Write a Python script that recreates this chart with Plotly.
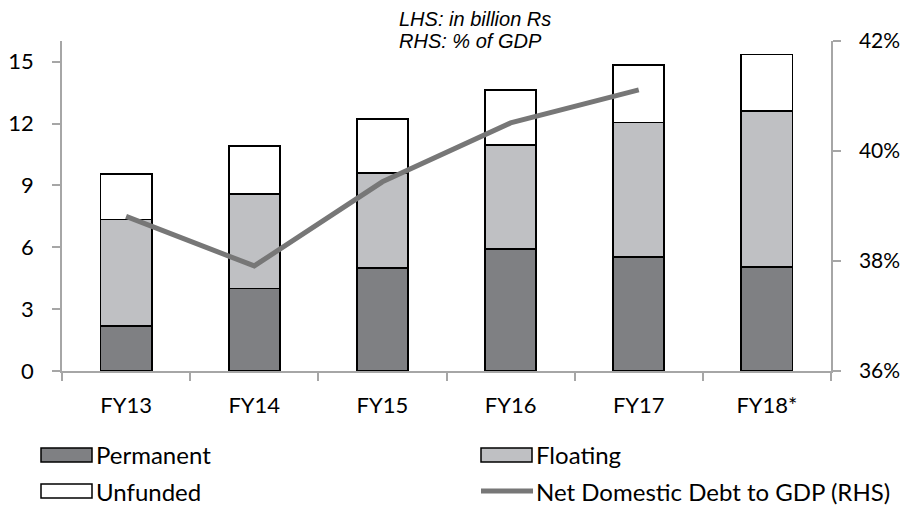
import plotly.graph_objects as go

categories = ["FY13", "FY14", "FY15", "FY16", "FY17", "FY18*"]
permanent = [2.2, 4.0, 5.0, 5.93, 5.53, 5.03]
floating = [5.15, 4.6, 4.6, 5.02, 6.52, 7.58]
unfunded = [2.2, 2.32, 2.6, 2.68, 2.79, 2.74]
debt_gdp = [38.81, 37.91, 39.44, 40.51, 41.11, None]

left_ticks = [0, 3, 6, 9, 12, 15]
right_ticks = [36, 38, 40, 42]
right_labels = ["36%", "38%", "40%", "42%"]

W, H = 907, 513
L, R, T, B = 62, 76, 41, 142
PW, PH = W - L - R, H - T - B

def px(x):
    return (x - L) / PW

def py(y):
    return (H - B - y) / PH

TICKFONT = dict(family="Lato, Carlito, sans-serif", size=22, color="#000000")
RTICKFONT = dict(family="Lato, Carlito, sans-serif", size=21, color="#000000")
AXCOL = "#a6a6a6"
DARK = "#7f8083"
LIGHT = "#bfc0c3"
LINECOL = "#777777"

fig = go.Figure()
fig.add_trace(go.Bar(x=categories, y=permanent, name="Permanent", width=0.4,
                     marker=dict(color=DARK, line=dict(color="#000000", width=1.8)),
                     showlegend=False))
fig.add_trace(go.Bar(x=categories, y=floating, name="Floating", width=0.4,
                     marker=dict(color=LIGHT, line=dict(color="#000000", width=1.8)),
                     showlegend=False))
fig.add_trace(go.Bar(x=categories, y=unfunded, name="Unfunded", width=0.4,
                     marker=dict(color="#ffffff", line=dict(color="#000000", width=1.8)),
                     showlegend=False))
fig.add_trace(go.Scatter(x=categories, y=debt_gdp, name="Net Domestic Debt to GDP (RHS)",
                         yaxis="y2", mode="lines",
                         line=dict(color=LINECOL, width=5), showlegend=False))

fig.update_layout(
    width=W, height=H,
    margin=dict(l=L, r=R, t=T, b=B, autoexpand=False),
    barmode="stack",
    plot_bgcolor="#ffffff", paper_bgcolor="#ffffff",
    xaxis=dict(showline=True, linecolor=AXCOL, linewidth=1.5, automargin=False,
               ticks="outside", tickson="boundaries", ticklen=8, tickcolor=AXCOL, tickwidth=1.5,
               tickfont=TICKFONT, showgrid=False, ticklabelstandoff=14),
    yaxis=dict(range=[0, 16], tickvals=left_ticks, showline=True, linecolor=AXCOL, linewidth=1.5,
               automargin=False,
               ticks="outside", ticklen=8, tickcolor=AXCOL, tickwidth=1.5,
               tickfont=TICKFONT, showgrid=False, zeroline=False, ticklabelstandoff=14),
    yaxis2=dict(range=[36, 42], tickvals=right_ticks, ticktext=right_labels,
                overlaying="y", side="right", automargin=False,
                showline=True, linecolor=AXCOL, linewidth=1.5,
                ticks="outside", ticklen=8, tickcolor=AXCOL, tickwidth=1.5,
                tickfont=RTICKFONT, showgrid=False, zeroline=False, ticklabelstandoff=14),
    showlegend=False,
)

# Unit annotations
ANNFONT = dict(family="Liberation Sans, Arial, sans-serif", size=20, color="#000000")
fig.add_annotation(x=px(397), y=py(19), xref="paper", yref="paper", text="<i>LHS: in billion Rs</i>",
                   showarrow=False, xanchor="left", yanchor="middle", font=ANNFONT)
fig.add_annotation(x=px(397), y=py(40.5), xref="paper", yref="paper", text="<i>RHS: % of GDP</i>",
                   showarrow=False, xanchor="left", yanchor="middle", font=ANNFONT)

# Custom legend
LEGFONT = dict(family="Lato, Carlito, sans-serif", size=24, color="#000000")
legend_items = [
    ("Permanent", "bar", DARK, 41, 455),
    ("Floating", "bar", LIGHT, 481, 455),
    ("Unfunded", "bar", "#ffffff", 41, 491),
    ("Net Domestic Debt to GDP (RHS)", "line", LINECOL, 481, 491),
]
for label, kind, col, x0, yc in legend_items:
    if kind == "bar":
        fig.add_shape(type="rect", xref="paper", yref="paper",
                      x0=px(x0), x1=px(x0 + 51), y0=py(yc - 7), y1=py(yc + 7),
                      fillcolor=col, line=dict(color="#000000", width=1.5))
    else:
        fig.add_shape(type="line", xref="paper", yref="paper",
                      x0=px(x0), x1=px(x0 + 52), y0=py(yc), y1=py(yc),
                      line=dict(color=col, width=5))
    fig.add_annotation(x=px(x0 + 53), y=py(yc), xref="paper", yref="paper", text=label,
                       showarrow=False, xanchor="left", yanchor="middle", font=LEGFONT)

fig.write_html("out.html", config={"displayModeBar": False},
               post_script="document.body.style.margin='0px';")
